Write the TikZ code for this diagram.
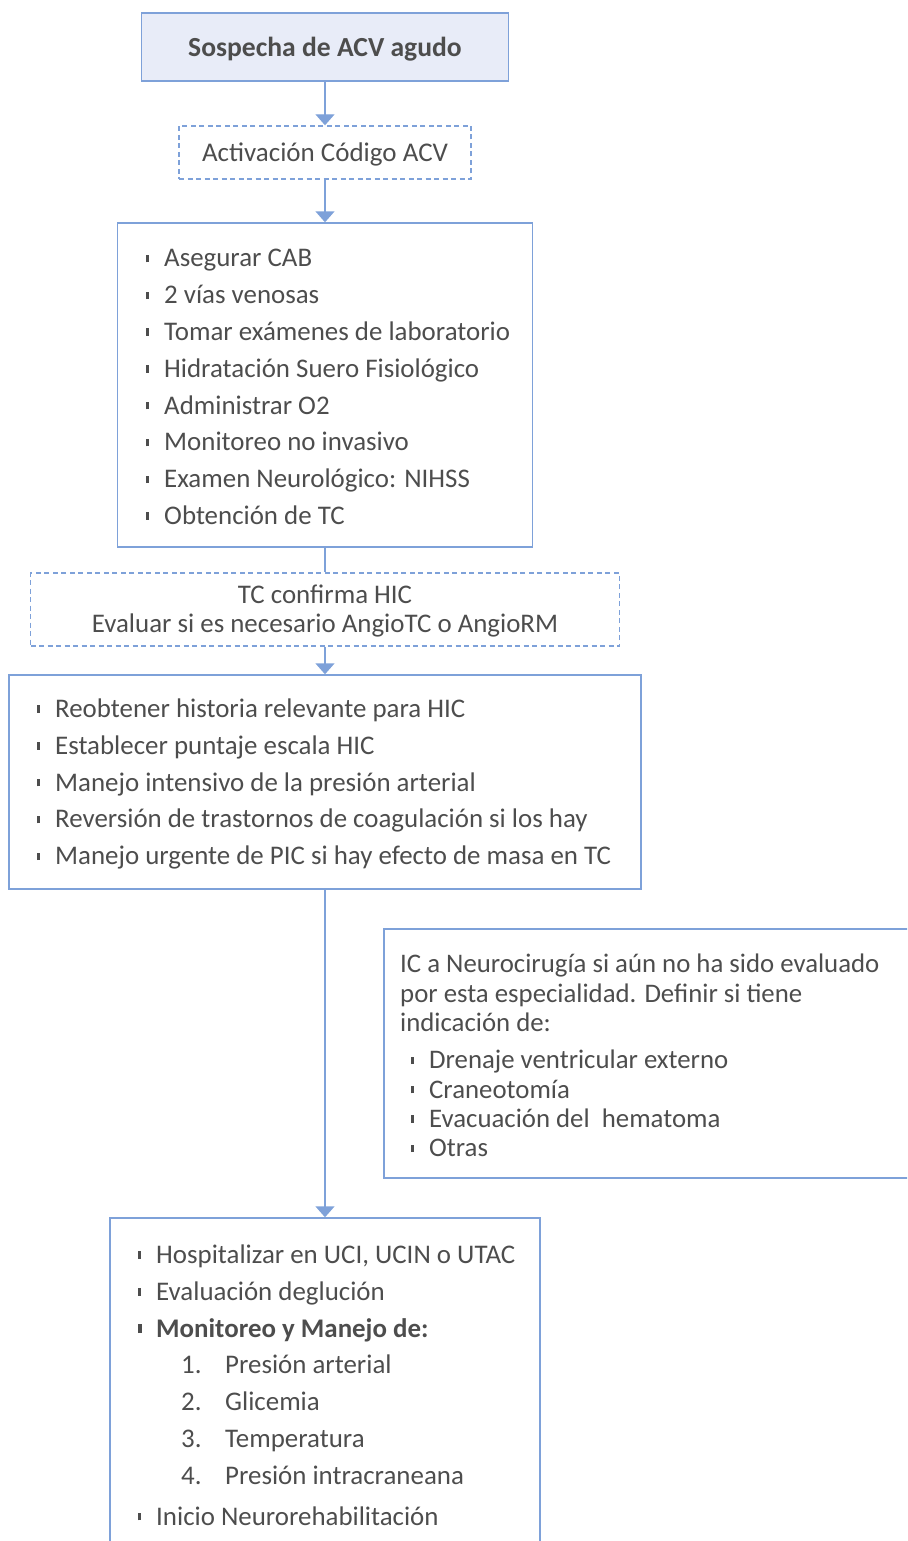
\documentclass[tikz,border=0pt]{standalone}
\usepackage{fontspec}
\setmainfont{Carlito}
\usetikzlibrary{arrows.meta,positioning}

\definecolor{flowblue}{HTML}{7EA1D9}
\definecolor{headfill}{HTML}{E8ECF8}
\definecolor{textgray}{HTML}{4D4D4D}

% small vertical tick used as bullet
\newcommand{\blt}{\makebox[18pt][l]{\rule[0.17em]{2.6pt}{0.28em}}}
\newcommand{\bltbold}{\makebox[18pt][l]{\rule[0.15em]{3.4pt}{0.32em}}}

\begin{document}
\begin{tikzpicture}[x=1pt, y=-1pt,
  box/.style={draw=flowblue, line width=1.4pt, inner sep=0pt},
  dashbox/.style={box, dash pattern=on 5pt off 3.5pt},
  txt/.style={text=textgray, align=left, inner sep=0pt, font=\fontsize{26.9}{36.8}\selectfont},
  flow/.style={draw=flowblue, line width=1.4pt, -{Triangle[width=19pt, length=11pt]}},
  link/.style={draw=flowblue, line width=1.4pt}]
  \useasboundingbox (0,0) rectangle (907,1541);
  \clip (0,0) rectangle (907,1541);

  % 1. Boxes (centres on the axis x = 325)
  \node[box, fill=headfill, minimum width=367pt, minimum height=68pt, text=textgray, text depth=0pt,
        font=\fontsize{27.6}{30}\selectfont\bfseries] (start) at (325,47) {Sospecha de ACV agudo};
  \node[dashbox, minimum width=292pt, minimum height=53pt, text=textgray, text depth=0pt,
        font=\fontsize{27}{30}\selectfont] (alert) at (325,152.5) {Activación Código ACV};
  \node[box, minimum width=415pt, minimum height=324pt] (care) at (325,385) {};
  \node[dashbox, minimum width=589pt, minimum height=73pt] (ctconf) at (325,609.5) {};
  \node[box, minimum width=632pt, minimum height=214pt] (hicbox) at (325,782) {};
  \node[box, minimum width=556pt, minimum height=249pt] (neuro) at (662,1053.5) {};
  \node[box, minimum width=430pt, minimum height=352pt] (ward) at (325,1394) {};

  % 2. Box texts
  \node[txt, anchor=west] (caretxt) at (146,387) {\blt Asegurar CAB\\
    \blt 2 vías venosas\\
    \blt Tomar exámenes de laboratorio\\
    \blt Hidratación Suero Fisiológico\\
    \blt Administrar O2\\
    \blt Monitoreo no invasivo\\
    \blt Examen Neurológico: NIHSS\\
    \blt Obtención de TC};

  \node[txt, align=center, font=\fontsize{26.9}{29}\selectfont] (cttxt) at (325,611)
    {TC confirma HIC\\Evaluar si es necesario AngioTC o AngioRM};

  \node[txt, anchor=west] (hictxt) at (37,784) {\blt Reobtener historia relevante para HIC\\
    \blt Establecer puntaje escala HIC\\
    \blt Manejo intensivo de la presión arterial\\
    \blt Reversión de trastornos de coagulación si los hay\\
    \blt Manejo urgente de PIC si hay efecto de masa en TC};

  \node[txt, anchor=west, font=\fontsize{26.8}{29.3}\selectfont] (neurotxt) at (400,1055.5)
    {IC a Neurocirugía si aún no ha sido evaluado\\
    por esta especialidad. Definir si tiene\\
    indicación de:\\[8pt]
    \hspace*{11pt}\blt Drenaje ventricular externo\\
    \hspace*{11pt}\blt Craneotomía\\
    \hspace*{11pt}\blt Evacuación del \ hematoma\\
    \hspace*{11pt}\blt Otras};

  \node[txt, anchor=west] (wardtxt) at (138,1385) {\blt Hospitalizar en UCI, UCIN o UTAC\\
    \blt Evaluación deglución\\
    \bltbold\textbf{Monitoreo y Manejo de:}\\
    \hspace*{43pt}\makebox[44pt][l]{1.}Presión arterial\\
    \hspace*{43pt}\makebox[44pt][l]{2.}Glicemia\\
    \hspace*{43pt}\makebox[44pt][l]{3.}Temperatura\\
    \hspace*{43pt}\makebox[44pt][l]{4.}Presión intracraneana\\[4pt]
    \blt Inicio Neurorehabilitación};

  % 3. Connectors
  \draw[flow] (start) -- (alert);
  \draw[flow] (alert) -- (care);
  \draw[link] (care) -- (ctconf);
  \draw[flow] (ctconf) -- (hicbox);
  \draw[flow] (hicbox) -- (ward);
\end{tikzpicture}
\end{document}
